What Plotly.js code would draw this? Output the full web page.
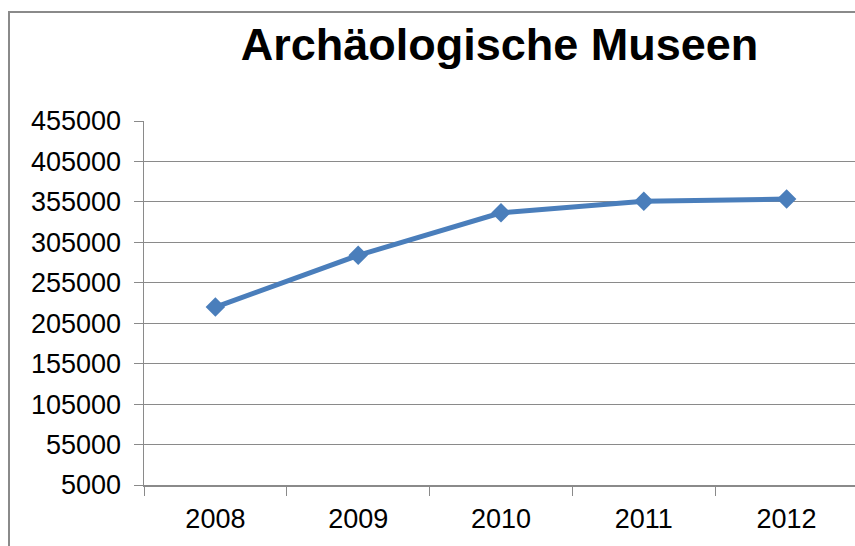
<!DOCTYPE html>
<html>
<head>
<meta charset="utf-8">
<script src="https://cdn.plot.ly/plotly-3.0.1.min.js"></script>
<style>
  html, body { margin: 0; padding: 0; width: 855px; height: 546px; overflow: hidden; background: #fff; }
  #chart { position: absolute; left: 0; top: 0; width: 855px; height: 546px; }
  #frame { position: absolute; left: 8px; top: 11px; width: 900px; height: 600px;
           border-left: 2px solid #8a8a8a; border-top: 2px solid #8a8a8a; pointer-events: none; }
</style>
</head>
<body>
<div id="chart"></div>
<div id="frame"></div>
<script>
const years = ['2008', '2009', '2010', '2011', '2012'];
const visitors = [225000, 289000, 341500, 355700, 358500];
const titleText = 'Archäologische Museen';

const trace = {
  x: years,
  y: visitors,
  type: 'scatter',
  mode: 'lines+markers',
  line: { color: '#4a7ebb', width: 5 },
  marker: { symbol: 'diamond', size: 15, color: '#4a7ebb' },
  hoverinfo: 'x+y'
};

const axisFont = { family: 'Liberation Sans, Arial, sans-serif', size: 27, color: '#000' };

const layout = {
  width: 855,
  height: 546,
  margin: { l: 144, r: 0, t: 121, b: 61 },
  paper_bgcolor: '#fff',
  plot_bgcolor: '#fff',
  showlegend: false,
  title: {
    text: titleText,
    font: { family: 'Liberation Sans, Arial, sans-serif', size: 45, color: '#000', weight: 'bold' },
    xref: 'paper', x: 0.5, xanchor: 'center',
    yref: 'container', y: 1 - 44 / 546, yanchor: 'middle'
  },
  xaxis: {
    type: 'category',
    range: [-0.5, 4.479],
    tickson: 'boundaries',
    ticks: 'outside',
    ticklen: 9,
    tickwidth: 1,
    tickcolor: '#8a8a8a',
    showgrid: false,
    showline: true,
    linecolor: '#8a8a8a',
    linewidth: 1.5,
    tickfont: axisFont,
    ticklabelstandoff: 9,
    zeroline: false,
    fixedrange: true
  },
  yaxis: {
    range: [5000, 455000],
    tick0: 5000,
    dtick: 50000,
    tickformat: 'd',
    ticks: 'outside',
    ticklen: 9,
    tickwidth: 1,
    tickcolor: '#8a8a8a',
    showgrid: true,
    gridcolor: '#8a8a8a',
    gridwidth: 1,
    showline: true,
    linecolor: '#8a8a8a',
    linewidth: 1.5,
    tickfont: axisFont,
    ticklabelstandoff: 7,
    zeroline: false,
    fixedrange: true
  }
};

Plotly.newPlot('chart', [trace], layout, { displayModeBar: false, staticPlot: true });
</script>
</body>
</html>
